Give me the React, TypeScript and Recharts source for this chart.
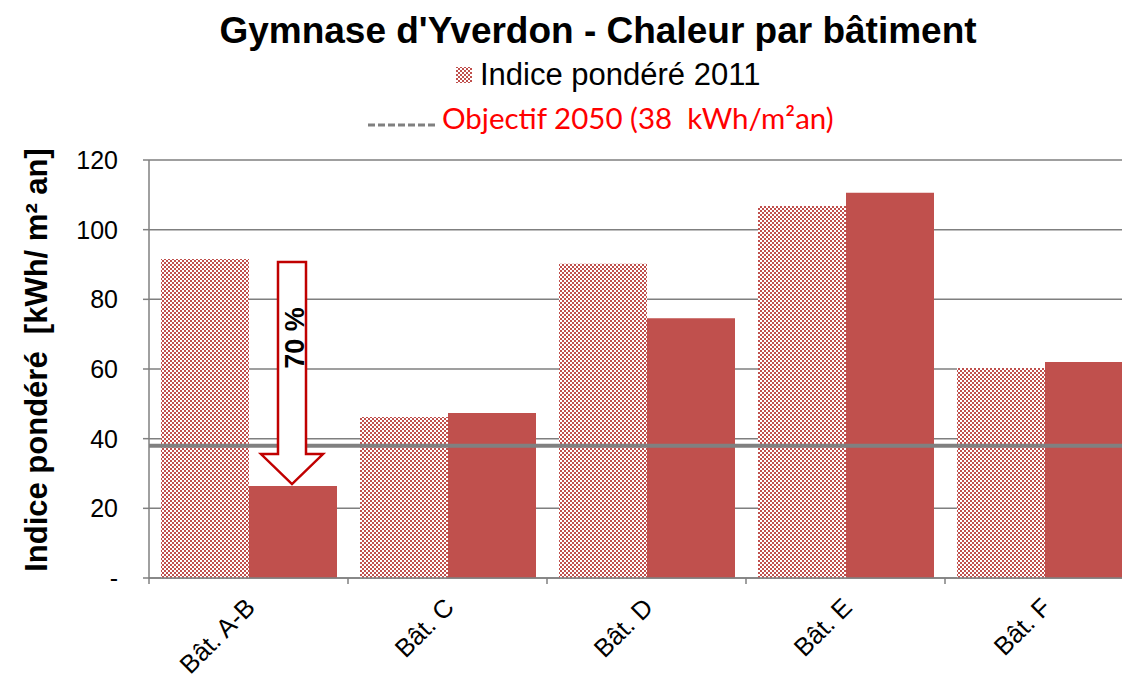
import { Bar, BarChart, CartesianGrid, LabelList, ReferenceLine, XAxis, YAxis } from 'recharts'

const buildings = ['Bât. A-B', 'Bât. C', 'Bât. D', 'Bât. E', 'Bât. F']
const indice2011 = [91.6, 46.2, 90.2, 106.8, 60.3]
const indiceApres = [26.4, 47.4, 74.6, 110.6, 62.0]
const yTicks = [0, 20, 40, 60, 80, 100, 120]
const objectif2050 = 38
const reductionLabel = '70 %'

const data = buildings.map((name, i) => ({ name, indice2011: indice2011[i], indiceApres: indiceApres[i] }))

const RED = '#c0504d'
const FONT = '"Liberation Sans", Arial, sans-serif'
const BAND = 199

function XTick({ x, y, payload }: any) {
  const tx = x + 8
  const ty = y + 23
  return (
    <g>
      <line x1={x - BAND / 2} x2={x - BAND / 2} y1={y - 8} y2={y - 2} stroke="#808080" strokeWidth={1.5} />
      <text
        x={tx}
        y={ty}
        transform={`rotate(-45, ${tx}, ${ty})`}
        textAnchor="end"
        style={{ fontFamily: FONT, fontSize: 25.5 }}
        fill="#000"
      >
        {payload.value}
      </text>
    </g>
  )
}

function ReductionArrow(props: any) {
  const { x, y, width, height, value, index } = props
  if (index !== 0 || !value) return null
  const pxPerUnit = height / value
  const bottom = y + height
  const top = bottom - indice2011[0] * pxPerUnit + 3
  const tip = y - 2
  const cx = x + width / 2 - 1
  const headTop = tip - 30
  const pts = [
    [cx - 14, top],
    [cx + 14, top],
    [cx + 14, headTop],
    [cx + 31, headTop],
    [cx, tip],
    [cx - 31, headTop],
    [cx - 14, headTop],
  ]
  const ty = top + 76
  return (
    <g>
      <polygon points={pts.map((p) => p.join(',')).join(' ')} fill="#fff" stroke="#c00000" strokeWidth={2.5} />
      <text
        x={cx + 3}
        y={ty}
        transform={`rotate(-90, ${cx + 3}, ${ty})`}
        textAnchor="middle"
        dominantBaseline="central"
        style={{ fontFamily: FONT, fontWeight: 'bold', fontSize: 27 }}
        fill="#000"
      >
        {reductionLabel}
      </text>
    </g>
  )
}

export default function App() {
  return (
    <div style={{ position: 'absolute', left: 0, top: 0, width: 1122, height: 679, overflow: 'hidden', background: '#fff' }}>
      <svg width={1122} height={160} style={{ position: 'absolute', left: 0, top: 0 }}>
        <defs>
          <pattern id="legendChecker" width={4} height={4} patternUnits="userSpaceOnUse">
            <rect width={4} height={4} fill={RED} />
            <rect width={2} height={2} fill="#fff" />
            <rect x={2} y={2} width={2} height={2} fill="#fff" />
          </pattern>
        </defs>
        <text x={598} y={43} textAnchor="middle" fontFamily={FONT} fontWeight="bold" fontSize={37} fill="#000">
          Gymnase d'Yverdon - Chaleur par bâtiment
        </text>
        <rect x={456} y={67} width={16} height={16} fill="url(#legendChecker)" />
        <text x={480} y={85} fontFamily={FONT} fontSize={31} fill="#000">
          Indice pondéré 2011
        </text>
        <line x1={368} x2={435} y1={125} y2={125} stroke="#808080" strokeWidth={3} strokeDasharray="7 3" />
        <text x={442} y={129} style={{ fontFamily: 'Lato, sans-serif', fontSize: 29.5, whiteSpace: 'pre' }} fill="#ff0000">
          Objectif 2050 (38  kWh/m²an)
        </text>
      </svg>
      <BarChart
        width={1150}
        height={679}
        data={data}
        margin={{ top: 160, right: 6, bottom: 41, left: 89 }}
        barCategoryGap={12}
        barGap={0}
        style={{ position: 'absolute', left: 0, top: 0 }}
      >
        <defs>
          <pattern id="checker" width={4} height={4} patternUnits="userSpaceOnUse">
            <rect width={4} height={4} fill={RED} />
            <rect width={2} height={2} fill="#fff" />
            <rect x={2} y={2} width={2} height={2} fill="#fff" />
          </pattern>
        </defs>
        <CartesianGrid vertical={false} stroke="#7f7f7f" strokeWidth={1.5} />
        <XAxis
          dataKey="name"
          height={60}
          axisLine={{ stroke: '#808080', strokeWidth: 1.5 }}
          tickLine={false}
          tick={<XTick />}
          interval={0}
        />
        <YAxis
          width={60}
          domain={[0, 120]}
          ticks={yTicks}
          interval={0}
          tickSize={6}
          tickMargin={25}
          axisLine={{ stroke: '#808080', strokeWidth: 1.5 }}
          tickLine={{ stroke: '#808080', strokeWidth: 1.5 }}
          tick={{ fill: '#000', fontSize: 25, fontFamily: FONT }}
          tickFormatter={(v: number) => (v === 0 ? '-' : String(v))}
        />
        <Bar dataKey="indice2011" name="Indice pondéré 2011" fill="url(#checker)" isAnimationActive={false} />
        <Bar dataKey="indiceApres" name="Indice pondéré" fill={RED} isAnimationActive={false}>
          <LabelList dataKey="indiceApres" content={<ReductionArrow />} />
        </Bar>
        <ReferenceLine y={objectif2050} stroke="#808080" strokeWidth={4} />
      </BarChart>
      <svg width={80} height={679} style={{ position: 'absolute', left: 0, top: 0 }}>
        <text
          x={47}
          y={360}
          transform="rotate(-90, 47, 360)"
          textAnchor="middle"
          style={{ fontFamily: FONT, fontWeight: 'bold', fontSize: 31, whiteSpace: 'pre' }}
          fill="#000"
        >
          Indice pondéré  [kWh/ m² an]
        </text>
      </svg>
    </div>
  )
}
